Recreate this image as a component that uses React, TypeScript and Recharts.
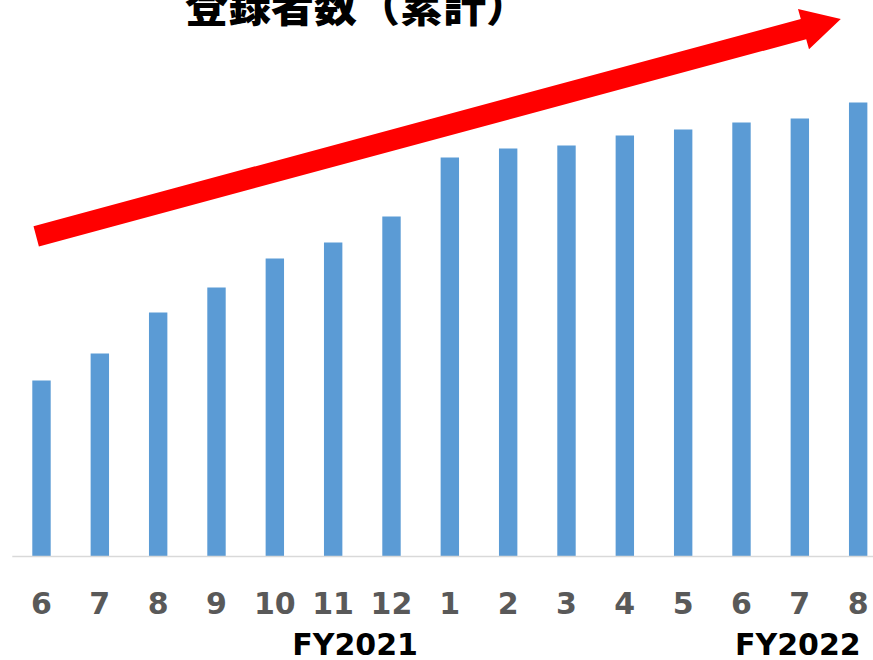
import React from "react";
import { BarChart, Bar, XAxis, YAxis, Customized } from "recharts";

// Monthly cumulative registrants, June 2021 – August 2022
const periods = [
  "2021-06", "2021-07", "2021-08", "2021-09", "2021-10", "2021-11", "2021-12",
  "2022-01", "2022-02", "2022-03", "2022-04", "2022-05", "2022-06", "2022-07", "2022-08",
];
const monthLabels = ["6", "7", "8", "9", "10", "11", "12", "1", "2", "3", "4", "5", "6", "7", "8"];
const registrants = [176, 203, 244, 269, 298, 314, 340, 399, 408, 411, 421, 427, 434, 438, 454];

// Fiscal-year captions shown under the month row, anchored to a period
const fiscalYearLabels = ["FY2021", "FY2022"];
const fiscalYearAnchors = ["2021-11", "2022-07"];

const title = "登録者数（累計）";

const data = periods.map((period, i) => ({
  period,
  month: monthLabels[i],
  value: registrants[i],
}));

const BAR_COLOR = "#5B9BD5";
const TICK_COLOR = "#595959";
const FY_NUDGE: Record<string, number> = { FY2021: 22, FY2022: -2 };

const MonthTick = (props: any) => {
  const { x, payload } = props;
  const idx = payload.index;
  const period = periods[idx];
  const fyIdx = fiscalYearAnchors.indexOf(period);
  return (
    <g>
      <text
        x={x}
        y={614}
        textAnchor="middle"
        fontFamily="DejaVu Sans"
        fontWeight="bold"
        fontSize={30}
        fill={TICK_COLOR}
      >
        {monthLabels[idx]}
      </text>
      {fyIdx >= 0 && (
        <text
          x={x + FY_NUDGE[fiscalYearLabels[fyIdx]]}
          y={655}
          textAnchor="middle"
          fontFamily="DejaVu Sans"
          fontWeight="bold"
          fontSize={30}
          fill="#000000"
        >
          {fiscalYearLabels[fyIdx]}
        </text>
      )}
    </g>
  );
};

// Title plus the upward trend arrow across the top of the chart
const Decorations = () => (
  <g>
    <text
      x={357}
      y={21.5}
      textAnchor="middle"
      fontFamily="'Noto Sans CJK JP'"
      fontWeight={900}
      fontSize={43}
      fill="#000000"
    >
      {title}
    </text>
    <polygon
      points="33.5,226.2 800.8,19.0 798.0,8.9 840.8,19 809.0,49.3 806.2,39.2 38.9,246.4"
      fill="#FF0000"
    />
  </g>
);

export default function App() {
  return (
    <div
      style={{
        position: "absolute",
        left: 0,
        top: 0,
        width: 873,
        height: 660,
        overflow: "hidden",
        background: "#ffffff",
      }}
    >
      <BarChart
        width={900}
        height={660}
        data={data}
        margin={{ top: 56.5, right: 12.7, bottom: 0, left: 12.3 }}
      >
        <YAxis hide domain={[0, 500]} />
        <XAxis
          dataKey="period"
          height={103.5}
          interval={0}
          tickLine={false}
          axisLine={{ stroke: "#D9D9D9", strokeWidth: 1.5 }}
          tick={<MonthTick />}
        />
        <Bar dataKey="value" fill={BAR_COLOR} barSize={18.4} isAnimationActive={false} />
        <Customized component={Decorations} />
      </BarChart>
    </div>
  );
}
